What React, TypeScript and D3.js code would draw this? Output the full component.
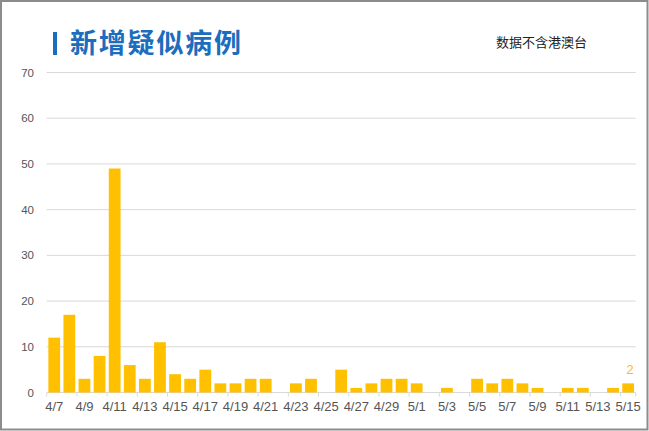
import React from "react";
import * as d3 from "d3";

const dates = [
  "4/7", "4/8", "4/9", "4/10", "4/11", "4/12", "4/13", "4/14", "4/15", "4/16",
  "4/17", "4/18", "4/19", "4/20", "4/21", "4/22", "4/23", "4/24", "4/25", "4/26",
  "4/27", "4/28", "4/29", "4/30", "5/1", "5/2", "5/3", "5/4", "5/5", "5/6",
  "5/7", "5/8", "5/9", "5/10", "5/11", "5/12", "5/13", "5/14", "5/15",
];
const values = [
  12, 17, 3, 8, 49, 6, 3, 11, 4, 3,
  5, 2, 2, 3, 3, 0, 2, 3, 0, 5,
  1, 2, 3, 3, 2, 0, 1, 0, 3, 2,
  3, 2, 1, 0, 1, 1, 0, 1, 2,
];
const yTicks = [0, 10, 20, 30, 40, 50, 60, 70];
const title = "新增疑似病例";
const subtitle = "数据不含港澳台";

const W = 649;
const H = 431;
const left = 46.7;
const right = 635.7;
const bottom = 392.5;
const top = 72.5;
const barColor = "#FFC000";
const gridColor = "#d9d9d9";
const textColor = "#555555";
const numFont = "'Liberation Sans', Arial, sans-serif";
const cjkFont = "'Noto Sans CJK SC', sans-serif";

export default function App() {
  const pI = 0.22;
  const x = d3.scaleBand<string>().domain(dates).range([left, right]).paddingInner(pI).paddingOuter(pI / 2);
  const y = d3.scaleLinear().domain([0, 70]).range([bottom, top]);
  const step = x.step();
  const lastIdx = dates.length - 1;

  return (
    <div style={{ position: "fixed", left: 0, top: 0, width: W, height: H, background: "#fff" }}>
      <svg width={W} height={H} style={{ display: "block" }}>
        <rect x={1} y={1} width={W - 2.5} height={H - 2.5} fill="#fff" stroke="#8c8c8c" strokeWidth={2} />
        {/* title */}
        <rect x={53} y={32} width={4} height={23} fill="#1a6ebd" />
        <text x={70} y={53} fontFamily={cjkFont} fontSize={27} fontWeight={700} fill="#1a6ebd" letterSpacing={1.8}>
          {title}
        </text>
        <text x={496} y={47} fontFamily={cjkFont} fontSize={13} fill="#222">
          {subtitle}
        </text>
        {/* grid */}
        {yTicks.map((t) => (
          <g key={t}>
            <line x1={left} x2={right} y1={y(t)} y2={y(t)} stroke={gridColor} strokeWidth={1} />
            <text x={34} y={y(t)} dy="0.35em" textAnchor="end" fontFamily={numFont} fontSize={11.5} fill={textColor}>
              {t}
            </text>
          </g>
        ))}
        {/* x ticks */}
        {dates.map((d, i) =>
          i % 2 === 0 ? (
            <g key={d}>
              <line x1={left + i * step} x2={left + i * step} y1={bottom} y2={bottom + 4} stroke={gridColor} />
              <text
                x={(x(d) as number) + x.bandwidth() / 2}
                y={410.5}
                textAnchor="middle"
                fontFamily={numFont}
                fontSize={13}
                fill={textColor}
              >
                {d}
              </text>
            </g>
          ) : null
        )}
        <line x1={right} x2={right} y1={bottom} y2={bottom + 4} stroke={gridColor} />
        {/* bars */}
        {dates.map((d, i) => (
          <rect
            key={d}
            x={x(d)}
            y={y(values[i])}
            width={x.bandwidth()}
            height={bottom - y(values[i])}
            fill={barColor}
          />
        ))}
        <text
          x={(x(dates[lastIdx]) as number) + x.bandwidth() / 2 + 2}
          y={y(values[lastIdx]) - 9}
          textAnchor="middle"
          fontFamily={numFont}
          fontSize={13}
          fill={barColor}
        >
          {values[lastIdx]}
        </text>
      </svg>
    </div>
  );
}
